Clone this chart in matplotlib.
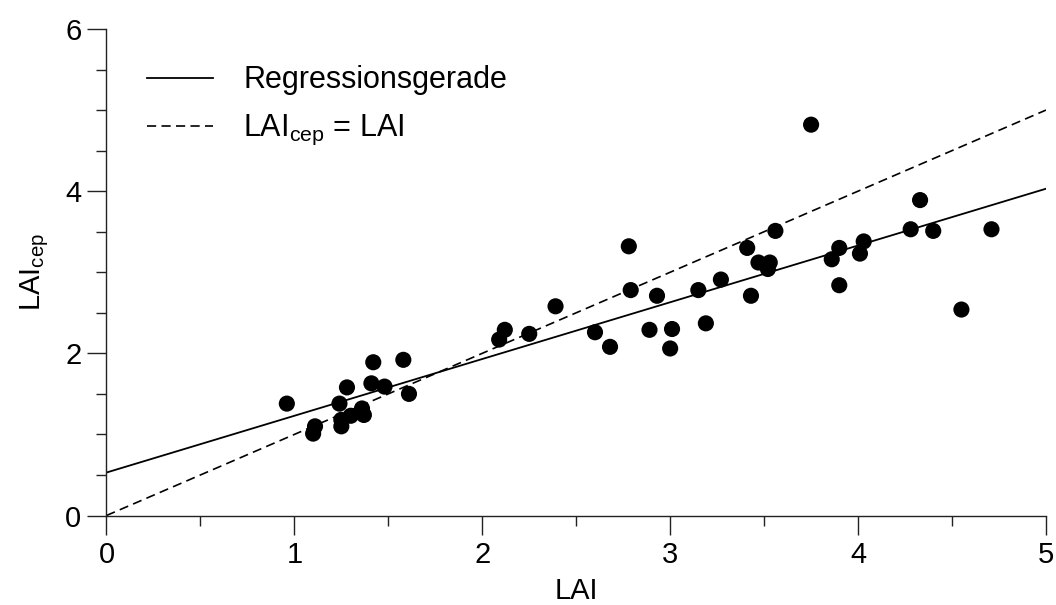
import matplotlib
matplotlib.use("Agg")
import matplotlib.pyplot as plt
import numpy as np
from matplotlib.ticker import MultipleLocator

# ---- data ----
lai = [0.96, 1.11, 1.10, 1.24, 1.28, 1.25, 1.25, 1.30, 1.36, 1.37,
       1.41, 1.42, 1.48, 1.58, 1.61, 2.09, 2.12, 2.25, 2.39, 2.60,
       2.68, 2.78, 2.79, 2.93, 2.89, 3.01, 3.00, 3.15, 3.19, 3.27,
       3.43, 3.41, 3.47, 3.53, 3.52, 3.56, 3.75, 3.86, 3.90, 3.90,
       4.01, 4.03, 4.28, 4.33, 4.40, 4.55, 4.71]
lai_cep = [1.38, 1.10, 1.01, 1.38, 1.58, 1.10, 1.18, 1.23, 1.32, 1.24,
           1.63, 1.89, 1.59, 1.92, 1.50, 2.17, 2.29, 2.24, 2.58, 2.26,
           2.08, 3.32, 2.78, 2.71, 2.29, 2.30, 2.06, 2.78, 2.37, 2.91,
           2.71, 3.30, 3.12, 3.12, 3.04, 3.51, 4.82, 3.16, 3.30, 2.84,
           3.23, 3.38, 3.53, 3.89, 3.51, 2.54, 3.53]
reg_intercept = 0.53
reg_slope = 0.70
x_range = [0, 5]
label_reg = "Regressionsgerade"
label_id = r"LAI$_{\mathrm{cep}}$ = LAI"
xlabel = "LAI"
ylabel = r"LAI$_{\mathrm{cep}}$"

plt.rcParams['font.family'] = ['Liberation Sans', 'DejaVu Sans']
plt.rcParams['mathtext.fontset'] = 'custom'
plt.rcParams['mathtext.rm'] = 'Liberation Sans'
plt.rcParams['mathtext.it'] = 'Liberation Sans:italic'
plt.rcParams['mathtext.bf'] = 'Liberation Sans:bold'

FS = 21
fig = plt.figure(figsize=(10.56, 6.05), dpi=100)
ax = fig.add_axes([0.1008, 0.1479, 0.8897, 0.8042])

xr = np.array(x_range, dtype=float)
ax.plot(xr, reg_intercept + reg_slope * xr, color='black', lw=1.3,
        label=label_reg, zorder=2)
ax.plot(xr, xr, color='black', lw=1.2, dashes=(5.5, 3.2),
        label=label_id, zorder=2)
ax.scatter(lai, lai_cep, s=135, color='black', edgecolors='none', zorder=3)

ax.set_xlim(0, 5)
ax.set_ylim(0, 6)
for s in ['top', 'right']:
    ax.spines[s].set_visible(False)
for s in ['left', 'bottom']:
    ax.spines[s].set_linewidth(1.0)
    ax.spines[s].set_color('#222222')

ax.xaxis.set_major_locator(MultipleLocator(1))
ax.xaxis.set_minor_locator(MultipleLocator(0.5))
ax.yaxis.set_major_locator(MultipleLocator(2))
ax.yaxis.set_minor_locator(MultipleLocator(0.5))
ax.tick_params(which='major', direction='out', length=14, width=1.0,
               color='#222222', labelsize=FS, pad=4)
ax.tick_params(which='minor', direction='out', length=7, width=1.0,
               color='#222222')

ax.set_xlabel(xlabel, fontsize=FS, labelpad=6)
ax.set_ylabel(ylabel, fontsize=FS, labelpad=10)

leg = ax.legend(loc='upper left', bbox_to_anchor=(0.043, 0.925),
                frameon=False, fontsize=22, handlelength=2.15,
                handletextpad=1.0, labelspacing=0.58, borderpad=0,
                borderaxespad=0)

fig.savefig("out.png", dpi=100)
